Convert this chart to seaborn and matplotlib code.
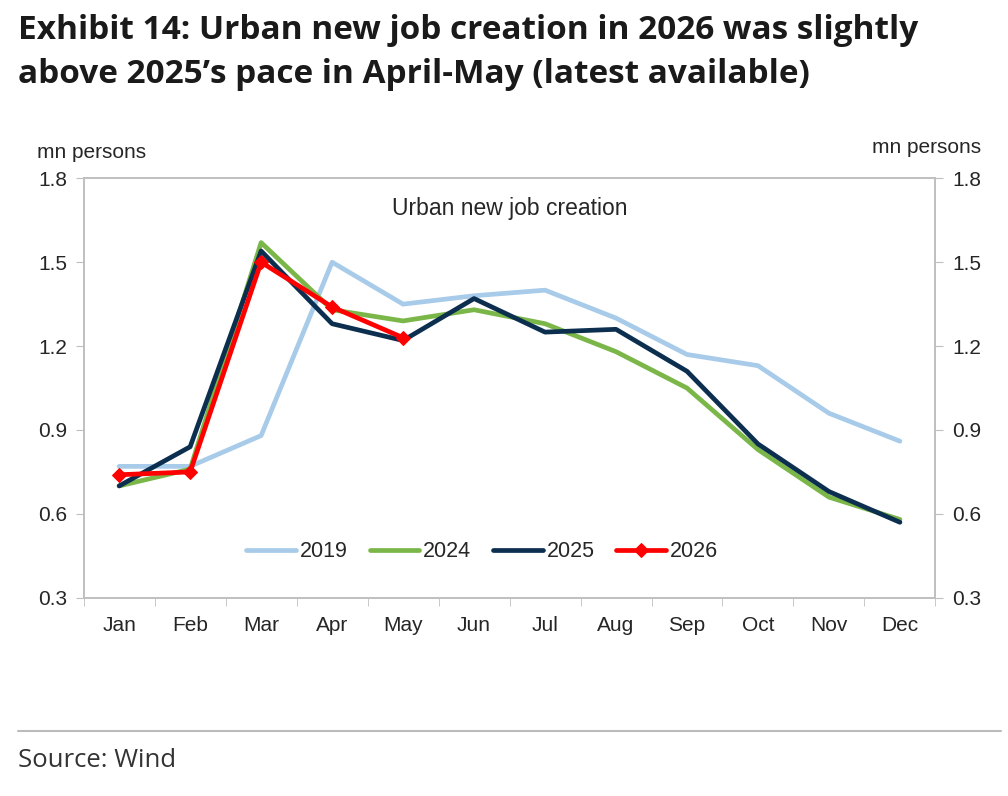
import pandas as pd
import numpy as np
import matplotlib.pyplot as plt
import seaborn as sns

# Datos (millones de personas)
months = ['Jan', 'Feb', 'Mar', 'Apr', 'May', 'Jun', 'Jul', 'Aug', 'Sep', 'Oct', 'Nov', 'Dec']
y2019 = [0.77, 0.77, 0.88, 1.50, 1.35, 1.38, 1.40, 1.30, 1.17, 1.13, 0.96, 0.86]
y2024 = [0.70, 0.76, 1.57, 1.33, 1.29, 1.33, 1.28, 1.18, 1.05, 0.83, 0.66, 0.58]
y2025 = [0.70, 0.84, 1.54, 1.28, 1.22, 1.37, 1.25, 1.26, 1.11, 0.85, 0.68, 0.57]
y2026 = [0.74, 0.75, 1.50, 1.34, 1.23]
yticks = [0.3, 0.6, 0.9, 1.2, 1.5, 1.8]

series = {'2019': y2019, '2024': y2024, '2025': y2025, '2026': y2026}
colors = {'2019': '#a7cbe9', '2024': '#7ab648', '2025': '#0c2f50', '2026': '#ff0000'}

rows = []
for year, vals in series.items():
    for i, v in enumerate(vals):
        rows.append({'month': i, 'value': v, 'year': year})
df = pd.DataFrame(rows)

sns.set_style('white')
plt.rcParams['font.family'] = ['Liberation Sans', 'DejaVu Sans']

fig = plt.figure(figsize=(10.08, 7.96), dpi=100)
ax = fig.add_axes([0.083, 0.249, 0.845, 0.527])

for year in series:
    sub = df[df['year'] == year]
    sns.lineplot(data=sub, x='month', y='value', ax=ax, color=colors[year],
                 linewidth=3.4, label=year,
                 marker='D' if year == '2026' else None, markersize=7,
                 markeredgecolor=colors[year])

ax.set_xlim(-0.5, 11.5)
ax.set_ylim(0.3, 1.8)
ax.set_yticks(yticks)
ax.set_yticklabels([f'{t:.1f}' for t in yticks], fontsize=15)
ax.set_xticks(range(12))
ax.set_xticklabels(months, fontsize=15)
ax.set_xticks(np.arange(-0.5, 12, 1), minor=True)
ax.tick_params(axis='x', which='major', length=0, pad=13)
ax.tick_params(axis='x', which='minor', length=6, color='#bfbfbf', direction='out', bottom=True)
ax.tick_params(axis='y', length=6, color='#bfbfbf', direction='out', left=True, pad=6)
ax.set_xlabel('')
ax.set_ylabel('')

ax2 = ax.twinx()
ax2.set_ylim(0.3, 1.8)
ax2.set_yticks(yticks)
ax2.set_yticklabels([f'{t:.1f}' for t in yticks], fontsize=15)
ax2.tick_params(axis='y', length=6, color='#bfbfbf', direction='out', right=True, pad=6)

for a in (ax, ax2):
    for s in a.spines.values():
        s.set_color('#bfbfbf')
        s.set_linewidth(1.2)

ax.text(0.5, 0.929, 'Urban new job creation', transform=ax.transAxes,
        ha='center', va='center', fontsize=16.5)

ax.legend(loc='center', bbox_to_anchor=(0.468, 0.11), ncol=4, frameon=False,
          fontsize=15.5, handlelength=2.3, columnspacing=1.0, handletextpad=0.2)

fig.text(0.037, 0.808, 'mn persons', fontsize=15, ha='left', va='center')
fig.text(0.973, 0.815, 'mn persons', fontsize=15, ha='right', va='center')

fig.text(0.018, 0.962, 'Exhibit 14: Urban new job creation in 2026 was slightly',
         fontsize=24, fontweight='bold', family=['Open Sans', 'DejaVu Sans'],
         ha='left', va='center', color='#1a1a1a')
fig.text(0.018, 0.906, 'above 2025\u2019s pace in April-May (latest available)',
         fontsize=24, fontweight='bold', family=['Open Sans', 'DejaVu Sans'],
         ha='left', va='center', color='#1a1a1a')

fig.add_artist(plt.Line2D([0.018, 0.993], [0.082, 0.082], color='#bbbbbb', linewidth=1.5))
fig.text(0.018, 0.044, 'Source: Wind', fontsize=18.5, family=['Open Sans', 'DejaVu Sans'],
         ha='left', va='center', color='#333333')

fig.savefig('out.png', dpi=100)
